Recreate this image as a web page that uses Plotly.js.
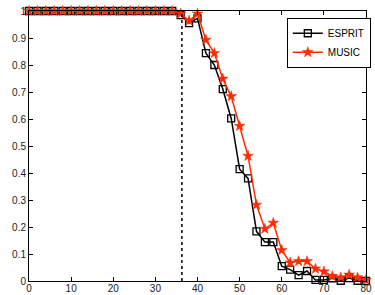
<!DOCTYPE html>
<html>
<head>
<meta charset="utf-8">
<script src="https://cdn.plot.ly/plotly-3.0.1.min.js"></script>
<style>html,body{margin:0;padding:0;background:#fff;}#chart{width:375px;height:295px;}</style>
</head>
<body>
<div id="chart"></div>
<script>
const xValues = [0,2,4,6,8,10,12,14,16,18,20,22,24,26,28,30,32,34,36,38,40,42,44,46,48,50,52,54,56,58,60,62,64,66,68,70,72,74,76,78,80];
const espritValues = [1,1,1,1,1,1,1,1,1,1,1,1,1,1,1,1,1,1,0.985,0.955,0.973,0.844,0.80,0.711,0.602,0.414,0.38,0.184,0.144,0.144,0.055,0.042,0.022,0.037,0.004,0.004,0.01,0.001,0.011,0.001,0.0];
const musicValues = [1,1,1,1,1,1,1,1,1,1,1,1,1,1,1,1,1,1,0.99,0.964,0.99,0.893,0.844,0.749,0.684,0.574,0.463,0.282,0.193,0.215,0.114,0.068,0.073,0.073,0.045,0.035,0.018,0.013,0.023,0.013,0.003];
const thresholdX = 36.3;
const xTicks = [0,10,20,30,40,50,60,70,80];
const yTicks = [0,0.1,0.2,0.3,0.4,0.5,0.6,0.7,0.8,0.9,1];
const yTickText = ['0','0.1','0.2','0.3','0.4','0.5','0.6','0.7','0.8','0.9','1'];

const traces = [
  {x: xValues, y: espritValues, name: 'ESPRIT', type: 'scatter', mode: 'lines+markers', cliponaxis: false,
   line: {color: '#000000', width: 1.5},
   marker: {symbol: 'square-open', size: 7, color: '#000000', line: {width: 1.3, color: '#000000'}}},
  {x: xValues, y: musicValues, name: 'MUSIC', type: 'scatter', mode: 'lines+markers', cliponaxis: false,
   line: {color: '#ff2a00', width: 1.5},
   marker: {symbol: 'star', size: 8, color: '#ff2a00', line: {width: 0.5, color: '#ff2a00'}}}
];

const axisCommon = {
  showline: true, linecolor: '#000', linewidth: 1, mirror: 'ticks',
  ticks: 'inside', ticklen: 4, tickcolor: '#000', tickwidth: 1,
  showgrid: false, zeroline: false,
  tickfont: {family: 'Liberation Sans, Arial, sans-serif', size: 10, color: '#222'}
};

const layout = {
  width: 375, height: 295,
  margin: {l: 28.5, r: 4, t: 11, b: 14},
  paper_bgcolor: '#fff', plot_bgcolor: '#fff',
  xaxis: Object.assign({}, axisCommon, {range: [0, 80], tickvals: xTicks, ticktext: xTicks.map(String), ticklabelstandoff: -2}),
  yaxis: Object.assign({}, axisCommon, {range: [0, 1], tickvals: yTicks, ticktext: yTickText}),
  shapes: [{type: 'line', xref: 'x', yref: 'y', x0: thresholdX, x1: thresholdX, y0: 0, y1: 1,
            line: {color: '#000', width: 1.5, dash: 'dot'}}],
  showlegend: true,
  legend: {x: 0.765, y: 0.975, xanchor: 'left', yanchor: 'top', bgcolor: '#fff', bordercolor: '#000', borderwidth: 1,
           font: {family: 'Liberation Sans, Arial, sans-serif', size: 10, color: '#000'},
           tracegroupgap: 0, itemwidth: 30}
};

Plotly.newPlot('chart', traces, layout, {displayModeBar: false, staticPlot: true});
</script>
</body>
</html>
